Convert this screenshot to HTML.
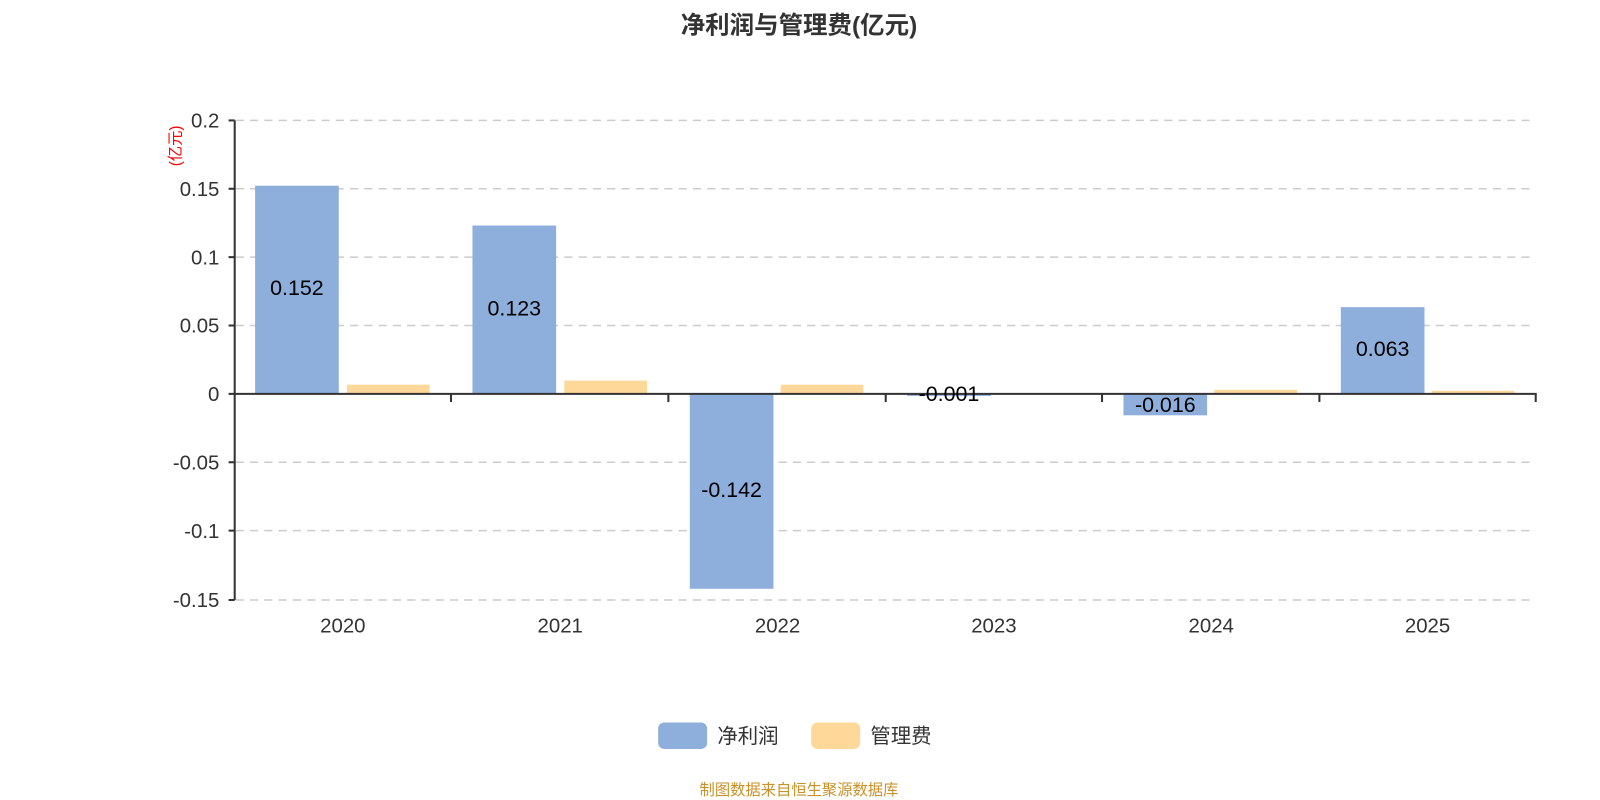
<!DOCTYPE html>
<html><head><meta charset="utf-8"><style>
html,body{margin:0;padding:0;background:#fff;}
svg{display:block;font-family:"Liberation Sans","Noto Sans CJK SC",sans-serif;}
</style></head><body>
<svg width="1600" height="800" viewBox="0 0 1568 784" preserveAspectRatio="none" xmlns="http://www.w3.org/2000/svg">
<text x="783" y="33" text-anchor="middle" font-size="24" font-weight="bold" fill="#333">净利润与管理费(亿元)</text>
<g stroke="#ccc" stroke-dasharray="8,6" stroke-width="1.5">
<line x1="231" y1="118" x2="1505" y2="118"/>
<line x1="231" y1="185" x2="1505" y2="185"/>
<line x1="231" y1="252" x2="1505" y2="252"/>
<line x1="231" y1="319" x2="1505" y2="319"/>
<line x1="231" y1="453" x2="1505" y2="453"/>
<line x1="231" y1="520" x2="1505" y2="520"/>
<line x1="231" y1="588" x2="1505" y2="588"/>
</g>
<g font-size="20" fill="#333" text-anchor="end">
<text x="215" y="125">0.2</text>
<text x="215" y="192">0.15</text>
<text x="215" y="259">0.1</text>
<text x="215" y="326">0.05</text>
<text x="215" y="393">0</text>
<text x="215" y="460">-0.05</text>
<text x="215" y="527">-0.1</text>
<text x="215" y="595">-0.15</text>
</g>
<text transform="translate(177,143) rotate(-90)" text-anchor="middle" font-size="15" fill="#f00">(亿元)</text>
<g fill="#8eaedb">
<rect x="250" y="182" width="82" height="204"/>
<rect x="463" y="221" width="82" height="165"/>
<rect x="676" y="386" width="82" height="191"/>
<rect x="889" y="386" width="82" height="2"/>
<rect x="1101" y="386" width="82" height="21"/>
<rect x="1314" y="301" width="82" height="85"/>
</g>
<g fill="#fed899">
<rect x="340" y="377" width="81" height="9"/>
<rect x="553" y="373" width="81" height="13"/>
<rect x="765" y="377" width="81" height="9"/>
<rect x="1190" y="382" width="81" height="4"/>
<rect x="1403" y="383" width="81" height="3"/>
</g>
<line x1="230" y1="118" x2="230" y2="588" stroke="#333" stroke-width="2"/>
<g stroke="#333" stroke-width="2">
<line x1="224" y1="118" x2="230" y2="118"/>
<line x1="224" y1="185" x2="230" y2="185"/>
<line x1="224" y1="252" x2="230" y2="252"/>
<line x1="224" y1="319" x2="230" y2="319"/>
<line x1="224" y1="386" x2="230" y2="386"/>
<line x1="224" y1="453" x2="230" y2="453"/>
<line x1="224" y1="520" x2="230" y2="520"/>
<line x1="224" y1="588" x2="230" y2="588"/>
<line x1="230" y1="386" x2="1506" y2="386"/>
<line x1="442" y1="386" x2="442" y2="394"/>
<line x1="655" y1="386" x2="655" y2="394"/>
<line x1="868" y1="386" x2="868" y2="394"/>
<line x1="1080" y1="386" x2="1080" y2="394"/>
<line x1="1293" y1="386" x2="1293" y2="394"/>
<line x1="1505" y1="386" x2="1505" y2="394"/>
</g>
<g font-size="20" fill="#333" text-anchor="middle">
<text x="336" y="620">2020</text>
<text x="549" y="620">2021</text>
<text x="762" y="620">2022</text>
<text x="974" y="620">2023</text>
<text x="1187" y="620">2024</text>
<text x="1399" y="620">2025</text>
</g>
<g font-size="21" fill="#000" text-anchor="middle">
<text x="291" y="289">0.152</text>
<text x="504" y="309">0.123</text>
<text x="717" y="487">-0.142</text>
<text x="930" y="393">-0.001</text>
<text x="1142" y="404">-0.016</text>
<text x="1355" y="349">0.063</text>
</g>
<rect x="645" y="708" width="48" height="26" rx="6" fill="#8eaedb"/>
<text x="703" y="728" font-size="20" fill="#333">净利润</text>
<rect x="795" y="708" width="48" height="26" rx="6" fill="#fed899"/>
<text x="853" y="728" font-size="20" fill="#333">管理费</text>
<text x="783" y="779" text-anchor="middle" font-size="15" fill="#c8922a">制图数据来自恒生聚源数据库</text>
</svg>
</body></html>
